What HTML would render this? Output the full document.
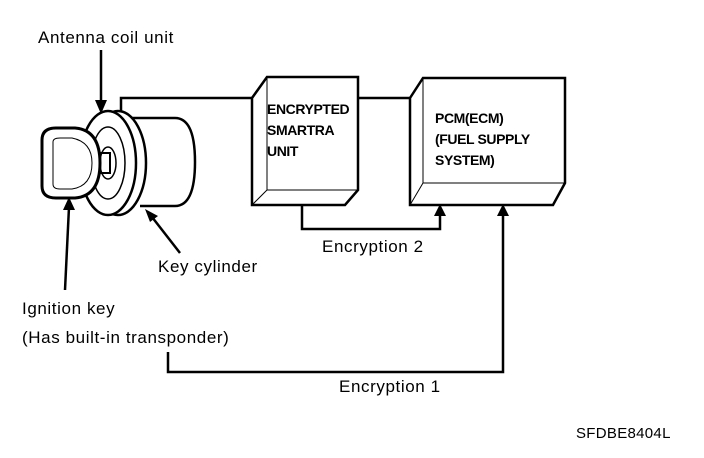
<!DOCTYPE html>
<html><head><style>
html,body{margin:0;padding:0;background:#fff;}
svg{display:block;}
text{font-family:"Liberation Sans",Arial,sans-serif;fill:#000;}
</style></head><body>
<svg width="704" height="458" viewBox="0 0 704 458" xmlns="http://www.w3.org/2000/svg">
<g fill="none" stroke="#000" stroke-width="2.5">
<path d="M132,118 L175,118 Q195,118 195,162 Q195,206 175,206 L140,206"/>
<ellipse cx="118" cy="163" rx="28" ry="52"/>
<ellipse cx="108" cy="163" rx="28" ry="52" fill="#fff"/>
<ellipse cx="108" cy="163" rx="17" ry="36" stroke-width="1.5"/>
<ellipse cx="108" cy="163" rx="8" ry="16" stroke-width="1.5"/>
<rect x="99" y="153" width="11" height="20" stroke-width="2"/>
<path d="M42,140 Q42,128 56,128 L75,128 Q100,130 100,163 Q100,196 75,198 L56,198 Q42,198 42,186 Z" fill="#fff" stroke-width="3"/>
<path d="M53,142 Q53,138 60,138 L72,138 Q92,142 92,163 Q92,186 72,189 L60,189 Q53,189 53,184 Z" stroke-width="1"/>
<path d="M121,112 L121,98 L252,98"/>
<path d="M358,98 L410,98"/>
<path d="M252,98 L267,77 L358,77 L358,190 L345,205 L252,205 Z"/>
<path d="M267,77 L267,190 L358,190 M252,205 L267,190" stroke-width="1"/>
<path d="M410,98 L423,78 L565,78 L565,183 L553,205 L410,205 Z"/>
<path d="M423,78 L423,183 L565,183 M410,205 L423,183" stroke-width="1"/>
<path d="M302,205 L302,229 L440,229 L440,214"/>
<path d="M168,352 L168,372 L503,372 L503,214"/>
<path d="M101,50 L101,104"/>
<path d="M180,253 L152,217"/>
<path d="M65,290 L69,207"/>
</g>
<g fill="#000">
<polygon points="95,100 107,100 101,114"/>
<polygon points="434,216 446,216 440,204"/>
<polygon points="497,216 509,216 503,204"/>
<polygon points="145,209 158,216 150,222"/>
<polygon points="63,210 75,210 69,197"/>
</g>
<g font-size="17" letter-spacing="0.6">
<text x="38" y="43">Antenna coil unit</text>
<text x="158" y="272">Key cylinder</text>
<text x="22" y="314">Ignition key</text>
<text x="22" y="343">(Has built-in transponder)</text>
<text x="322" y="252">Encryption 2</text>
<text x="339" y="392">Encryption 1</text>
</g>
<g font-size="14" font-weight="bold" letter-spacing="-0.4">
<text x="267" y="114">ENCRYPTED</text>
<text x="267" y="135">SMARTRA</text>
<text x="267" y="156">UNIT</text>
<text x="435" y="123">PCM(ECM)</text>
<text x="435" y="144">(FUEL SUPPLY</text>
<text x="435" y="165">SYSTEM)</text>
</g>
<text x="576" y="438" font-size="15" letter-spacing="0.3">SFDBE8404L</text>
</svg>
</body></html>
